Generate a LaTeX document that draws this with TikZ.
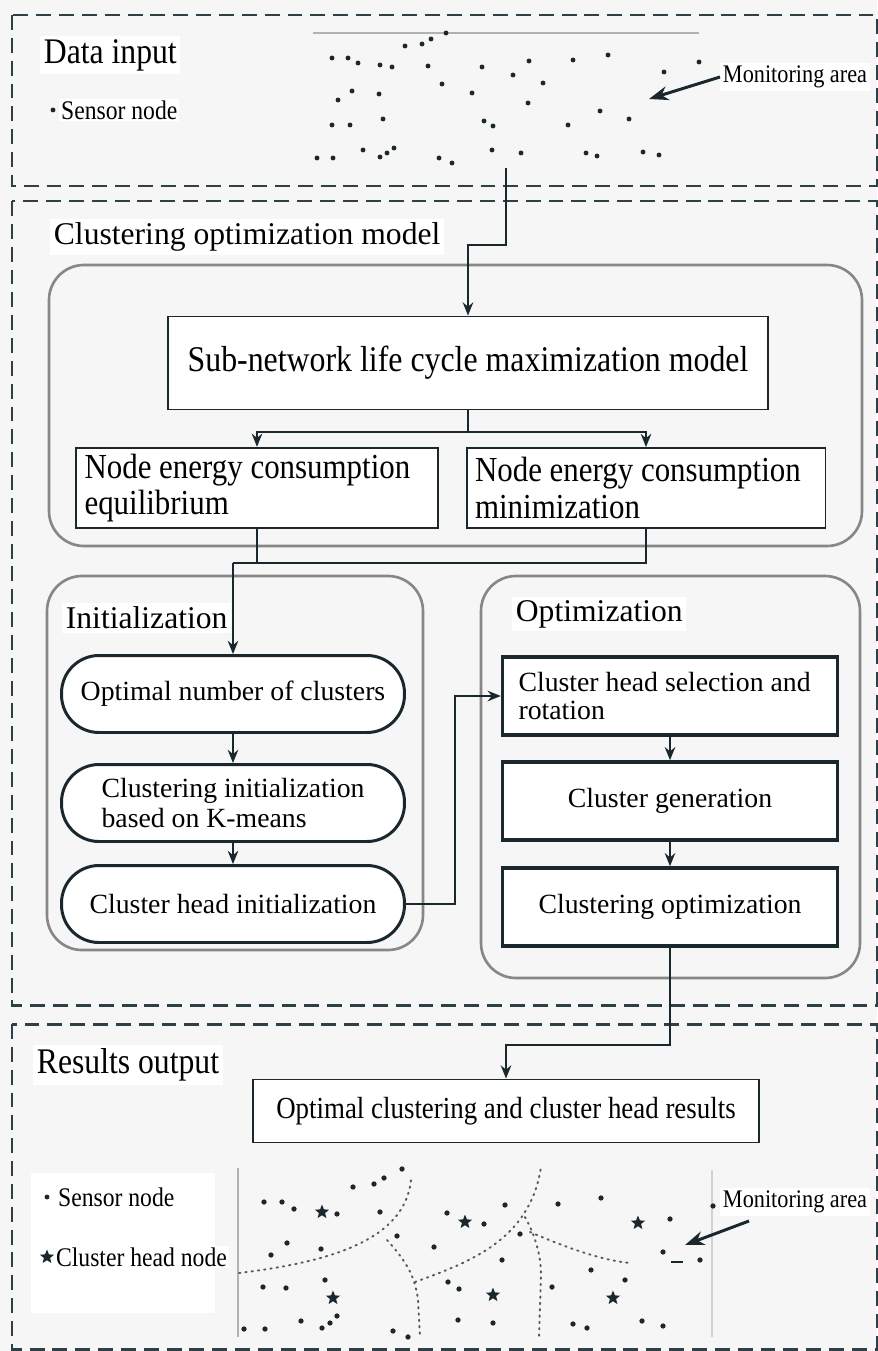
\documentclass[tikz,border=0pt]{standalone}
\usepackage{fontspec}
\setmainfont{Liberation Serif}
\newfontfamily\narrowserif{Liberation Serif}[FakeStretch=0.88]
\usepackage{xcolor}
\usepackage{tikz}
\usetikzlibrary{arrows.meta,positioning,calc,shapes.geometric}

\definecolor{inkdark}{RGB}{26,40,46}
\definecolor{dashink}{RGB}{44,64,70}
\definecolor{panelgray}{RGB}{135,135,135}
\definecolor{pagebg}{RGB}{246,246,246}

\begin{document}
\begin{tikzpicture}[x=0.02cm, y=-0.02cm, >={Stealth[length=7.5pt,width=6pt]}]
    \tikzset{
        region/.style={draw=dashink, line width=1.7pt, dash pattern=on 8.5pt off 4.5pt},
        panel/.style={draw=panelgray, line width=1.5pt, rounded corners=0.7cm},
        heading/.style={fill=white, inner sep=2pt, anchor=west, font=\fontsize{18}{21}\selectfont},
        bigheading/.style={fill=white, inner sep=2pt, anchor=west, font=\narrowserif\fontsize{20.5}{24}\selectfont},
        legend/.style={fill=white, inner sep=1pt, anchor=west, font=\narrowserif\fontsize{15.3}{17}\selectfont},
        arealabel/.style={fill=white, inner sep=1.5pt, anchor=west, font=\narrowserif\fontsize{14.4}{17}\selectfont},
        block/.style={draw=inkdark, fill=white, line width=1.1pt, align=flush left, font=\narrowserif\fontsize{20}{21}\selectfont},
        pill/.style={draw=inkdark, fill=white, line width=1.7pt, rounded corners=0.75cm, minimum width=6.86cm, minimum height=1.54cm, align=flush left, font=\fontsize{15.8}{17}\selectfont},
        optbox/.style={draw=inkdark, fill=white, line width=2pt, minimum width=6.7cm, minimum height=1.56cm, align=flush left, font=\fontsize{15.8}{16.5}\selectfont},
        line/.style={draw=inkdark, line width=1pt},
        pointer/.style={draw=inkdark, line width=1.7pt, -{Stealth[length=11pt,width=8pt]}},
        divider/.style={draw=gray!70!black, line width=1.1pt, dash pattern=on 0.8pt off 2.8pt, line cap=round},
        chead/.style={star, star points=5, star point ratio=2.3, fill=inkdark, inner sep=0pt, minimum size=8.5pt}
    }

    % Page and frames
    \fill[pagebg] (0,0) rectangle (877,1351);
    \useasboundingbox (0,0) rectangle (877,1351);
    \draw[region] (12,15) rectangle (877,186);
    \draw[region] (12,201) rectangle (877,1005);
    \draw[region] (12,1024) rectangle (877,1349);
    \draw[panel] (49,265) rectangle (862,546);
    \draw[panel] (47,576) rectangle (423,950);
    \draw[panel] (481,576) rectangle (860,978);

    % Data input
    \node[bigheading] (datain) at (40,55) {Data input};
    \fill[inkdark] (53,110) circle (1.4pt);
    \node[legend] (sensortop) at (59,110) {Sensor node};
    \draw[gray!60, line width=1.2pt] (313,33) -- (699,33);
    \foreach \px/\py in {446/33,405/46,422/44,431/39,332/58,348/58,358/63,380/65,392/67,428/66,482/67,529/61,573/60,513/75,543/83,442/84,352/91,338/100,379/94,472/93,528/103,600/111,383/119,332/125,350/125,484/121,493/126,568/125,363/150,380/157,387/153,394/148,317/158,333/158,439/158,452/163,492/150,521/153,586/153,597/156,608/55,699/62,664/72,629/119,643/152,659/155}
        \fill[inkdark] (\px,\py) circle (1.4pt);
    \node[arealabel] (montop) at (720,77) {Monitoring area};
    \coordinate (montip) at (649,99);
    \draw[pointer] (montop.west) -- (montip);

    % Clustering optimization model
    \node[heading] (modeltitle) at (50,237) {Clustering optimization model};
    \node[block, minimum width=12cm, minimum height=1.86cm, align=center, font=\narrowserif\fontsize{20.6}{22}\selectfont] (sub) at (468,363) {Sub-network life cycle maximization model};
    \node[block, text width=6.9cm, inner xsep=0.17cm, minimum height=1.6cm] (nodeL) at (257,488) {Node energy consumption\\equilibrium};
    \node[block, text width=6.84cm, inner xsep=0.17cm, minimum height=1.6cm] (nodeR) at (646,488) {Node energy consumption\\minimization};

    \node[heading] (inittitle) at (62,618) {Initialization};
    \node[pill] (pill1) at (233,694) {Optimal number of clusters};
    \node[pill] (pill2) at (233,803) {Clustering initialization\\based on K-means};
    \node[pill] (pill3) at (233,904) {Cluster head initialization};

    \node[heading] (opttitle) at (512,614) {Optimization};
    \node[optbox, text width=6.06cm] (opt1) at (670,696) {Cluster head selection and\\rotation};
    \node[optbox, align=center] (opt2) at (670,801) {Cluster generation};
    \node[optbox, align=center] (opt3) at (670,907) {Clustering optimization};

    % Results output
    \node[bigheading] (resulttitle) at (33,1065) {Results output};
    \node[block, align=center, minimum width=10.14cm, minimum height=1.26cm, font=\narrowserif\fontsize{17.4}{20}\selectfont] (res) at (506,1111) {Optimal clustering and cluster head results};

    % Connections
    \coordinate (src) at (506,168);
    \coordinate (jog1) at (468,245);
    \draw[line, ->] (src) |- (jog1) -- (sub.north);
    \coordinate (split1) at (468,432);
    \draw[line] (sub.south) -- (split1);
    \draw[line, ->] (split1) -| (nodeL.north);
    \draw[line, ->] (split1) -| (nodeR.north);
    \coordinate (merge) at (233,563);
    \draw[line] (nodeL.south) -- (nodeL.south |- merge);
    \draw[line] (nodeR.south) |- (merge);
    \draw[line, ->] (merge) -- (pill1.north);
    \draw[line, ->] (pill1) -- (pill2);
    \draw[line, ->] (pill2) -- (pill3);
    \coordinate (bend2) at (455,800);
    \draw[line, ->] (pill3.east) -- (pill3.east -| bend2) |- (opt1.west);
    \draw[line, ->] (opt1) -- (opt2);
    \draw[line, ->] (opt2) -- (opt3);
    \coordinate (jog3) at (670,1045);
    \draw[line, ->] (opt3.south) -- (jog3) -| (res.north);

    % Result map
    \fill[white] (31,1173) rectangle (215,1313);
    \fill[inkdark] (47,1197) circle (1.4pt);
    \node[legend] (sensorbot) at (56,1197) {Sensor node};
    \node[chead] (starkey) at (47,1257) {};
    \node[legend] (headbot) at (54,1257) {Cluster head node};
    \draw[gray!60, line width=1pt] (238,1168) -- (238,1337);
    \draw[gray!35, line width=1pt] (712,1170) -- (712,1337);
    \draw[divider] (239,1273) .. controls (330,1262) and (405,1240) .. (411,1180);
    \draw[divider] (387,1240) .. controls (405,1260) and (415,1275) .. (418,1300) -- (420,1337);
    \draw[divider] (415,1282) .. controls (470,1262) and (530,1240) .. (541,1167);
    \draw[divider] (525,1217) .. controls (535,1235) and (541,1255) .. (541,1275) -- (539,1337);
    \draw[divider] (530,1232) .. controls (565,1247) and (600,1260) .. (630,1263);
    \foreach \px/\py in {402/1169,384/1178,374/1184,353/1187,264/1202,282/1202,294/1209,337/1214,380/1212,447/1213,397/1236,434/1247,287/1243,321/1249,271/1255,263/1287,286/1288,325/1280,448/1282,459/1289,337/1316,330/1323,322/1328,301/1321,244/1329,265/1329,393/1331,408/1337,458/1320,505/1205,484/1224,558/1204,601/1198,520/1234,502/1260,670/1219,663/1252,700/1260,591/1270,625/1280,552/1287,493/1323,573/1324,587/1328,642/1321,663/1326,713/1206}
        \fill[inkdark] (\px,\py) circle (1.5pt);
    \draw[inkdark, line width=1.3pt] (671,1262) -- (683,1262);
    \foreach \px/\py in {322/1212,465/1222,333/1298,638/1223,493/1295,613/1298}
        \node[chead] at (\px,\py) {};
    \node[arealabel] (monbot) at (720,1202) {Monitoring area};
    \coordinate (montail) at (749,1221);
    \coordinate (montip2) at (685,1245);
    \draw[pointer] (montail) -- (montip2);
\end{tikzpicture}
\end{document}
